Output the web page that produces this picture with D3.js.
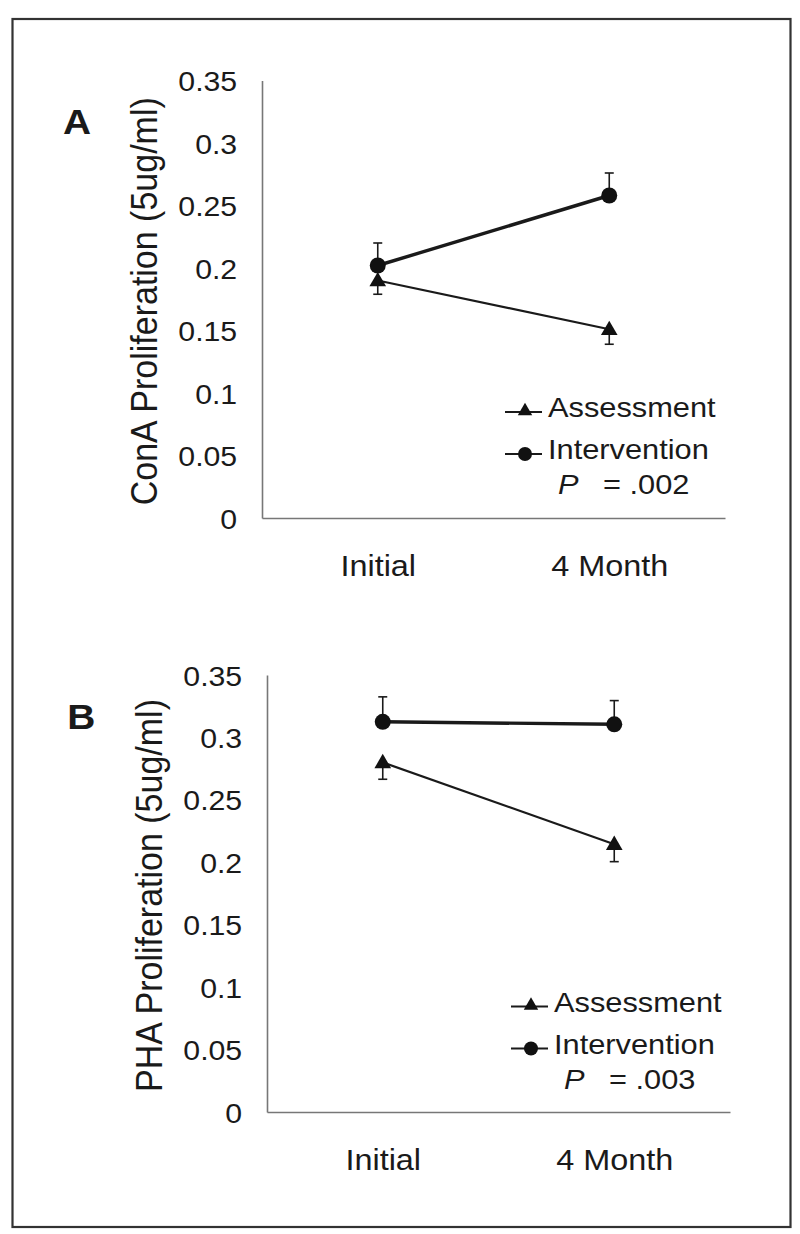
<!DOCTYPE html>
<html>
<head>
<meta charset="utf-8">
<script src="https://cdn.jsdelivr.net/npm/d3@7"></script>
<style>
  html, body { margin: 0; padding: 0; background: #fff; }
  svg { display: block; }
  text { font-family: "Liberation Sans", Arial, Helvetica, sans-serif; fill: #1a1a1a; }
</style>
</head>
<body>
<svg id="chart" width="800" height="1234"></svg>
<script>
// ---------------- data ----------------
const categories = ["Initial", "4 Month"];
const yTickValues = [0, 0.05, 0.1, 0.15, 0.2, 0.25, 0.3, 0.35];
const yTickLabels = ["0", "0.05", "0.1", "0.15", "0.2", "0.25", "0.3", "0.35"];
const seriesNames = ["Assessment", "Intervention"];

const conaAssessment = [0.190, 0.151];
const conaAssessmentErr = [0.011, 0.012];
const conaIntervention = [0.202, 0.258];
const conaInterventionErr = [0.018, 0.018];

const phaAssessment = [0.280, 0.2145];
const phaAssessmentErr = [0.0135, 0.014];
const phaIntervention = [0.3125, 0.3105];
const phaInterventionErr = [0.020, 0.019];

const panelLetters = ["A", "B"];
const yTitles = ["ConA Proliferation (5ug/ml)", "PHA Proliferation (5ug/ml)"];
const pValues = [".002", ".003"];

// ---------------- layout ----------------
const svg = d3.select("#chart");
const SX = 1.08; // horizontal stretch of the scanned figure

svg.append("rect")
  .attr("x", 12.5).attr("y", 19).attr("width", 778).attr("height", 1208)
  .attr("fill", "none").attr("stroke", "#333").attr("stroke-width", 2.2);

const panels = [
  { left: 262, right: 725, top: 80.5, bottom: 518, dx: 0,
    assess: conaAssessment, assessErr: conaAssessmentErr,
    interv: conaIntervention, intervErr: conaInterventionErr },
  { left: 267, right: 730, top: 675, bottom: 1112, dx: 6,
    assess: phaAssessment, assessErr: phaAssessmentErr,
    interv: phaIntervention, intervErr: phaInterventionErr }
];

panels.forEach((p, i) => {
  const g = svg.append("g");
  const x = d3.scalePoint().domain(categories).range([p.left, p.right]).padding(0.5);
  const y = d3.scaleLinear().domain([0, 0.35]).range([p.bottom, p.top]);

  // y axis
  const yAxis = g.append("g").attr("transform", `translate(${p.left},0)`)
    .call(d3.axisLeft(y).tickValues(yTickValues).tickSize(0).tickSizeOuter(0).tickPadding(23)
      .tickFormat((d, k) => yTickLabels[k]));
  yAxis.select(".domain").attr("stroke", "#777").attr("stroke-width", 1.6);
  yAxis.selectAll("text")
    .attr("font-size", 28).attr("dy", "0.36em")
    .attr("font-family", "Liberation Sans, Arial, sans-serif")
    .attr("fill", "#1a1a1a")
    .attr("transform", `scale(${SX},1)`);

  // x axis
  const xAxis = g.append("g").attr("transform", `translate(0,${p.bottom})`)
    .call(d3.axisBottom(x).tickSize(0).tickSizeOuter(0).tickPadding(37));
  xAxis.select(".domain").attr("stroke", "#777").attr("stroke-width", 1.6);
  xAxis.selectAll(".tick text")
    .attr("font-size", 30)
    .attr("font-family", "Liberation Sans, Arial, sans-serif")
    .attr("fill", "#1a1a1a")
    .attr("transform", `scale(${SX},1)`);

  // y title
  const ty = (p.top + p.bottom) / 2 + 2;
  g.append("text")
    .attr("transform", `translate(${157 + p.dx * 0.8},${ty}) rotate(-90) scale(1,${SX})`)
    .attr("text-anchor", "middle")
    .attr("font-size", 34)
    .text(yTitles[i]);

  // panel letter
  g.append("text")
    .attr("transform", `translate(${63 + p.dx * 0.7},${134 + (p.top - 80.5)}) scale(${SX},1)`)
    .attr("font-size", 36).attr("font-weight", "bold")
    .text(panelLetters[i]);

  // error bars
  const cap = 4.5;
  const errG = g.append("g").attr("stroke", "#1a1a1a").attr("stroke-width", 1.6);
  categories.forEach((c, k) => {
    const cx = x(c);
    // intervention: upward
    const y0 = y(p.interv[k]), y1 = y(p.interv[k] + p.intervErr[k]);
    errG.append("line").attr("x1", cx).attr("x2", cx).attr("y1", y0).attr("y2", y1);
    errG.append("line").attr("x1", cx - cap).attr("x2", cx + cap).attr("y1", y1).attr("y2", y1);
    // assessment: downward
    const a0 = y(p.assess[k]), a1 = y(p.assess[k] - p.assessErr[k]);
    errG.append("line").attr("x1", cx).attr("x2", cx).attr("y1", a0).attr("y2", a1);
    errG.append("line").attr("x1", cx - cap).attr("x2", cx + cap).attr("y1", a1).attr("y2", a1);
  });

  // lines
  const line = d3.line().x((d, k) => x(categories[k])).y(d => y(d));
  g.append("path").datum(p.assess).attr("d", line)
    .attr("fill", "none").attr("stroke", "#1a1a1a").attr("stroke-width", 2.2);
  g.append("path").datum(p.interv).attr("d", line)
    .attr("fill", "none").attr("stroke", "#1a1a1a").attr("stroke-width", 3.4);

  // markers
  const tri = d3.symbol().type(d3.symbolTriangle).size(120);
  g.selectAll(".tri").data(p.assess).enter().append("path")
    .attr("d", tri)
    .attr("transform", (d, k) => `translate(${x(categories[k])},${y(d) + 1})`)
    .attr("fill", "#111");
  g.selectAll(".circ").data(p.interv).enter().append("circle")
    .attr("cx", (d, k) => x(categories[k])).attr("cy", d => y(d)).attr("r", 8)
    .attr("fill", "#111");

  // legend
  const lx = 505 + p.dx, oy = p.top - 80.5;
  const rows = [417 + oy, 459 + oy];
  const lg = g.append("g");
  seriesNames.forEach((name, k) => {
    const ry = rows[k] - 5;
    lg.append("line").attr("x1", lx).attr("x2", lx + 37).attr("y1", ry).attr("y2", ry)
      .attr("stroke", "#1a1a1a").attr("stroke-width", 2);
    if (k === 0) {
      lg.append("path").attr("d", d3.symbol().type(d3.symbolTriangle).size(90))
        .attr("transform", `translate(${lx + 20},${ry - 1})`).attr("fill", "#111");
    } else {
      lg.append("circle").attr("cx", lx + 20).attr("cy", ry).attr("r", 7).attr("fill", "#111");
    }
    lg.append("text")
      .attr("transform", `translate(${lx + 43},${rows[k]}) scale(${SX},1)`)
      .attr("font-size", 28.5)
      .text(name);
  });
  lg.append("text")
    .attr("transform", `translate(${lx + 53},${494 + oy}) scale(${SX},1)`)
    .attr("font-size", 28.5).attr("font-style", "italic")
    .text("P");
  lg.append("text")
    .attr("transform", `translate(${lx + 98},${494 + oy}) scale(${SX},1)`)
    .attr("font-size", 28.5)
    .text("= " + pValues[i]);
});
</script>
</body>
</html>
